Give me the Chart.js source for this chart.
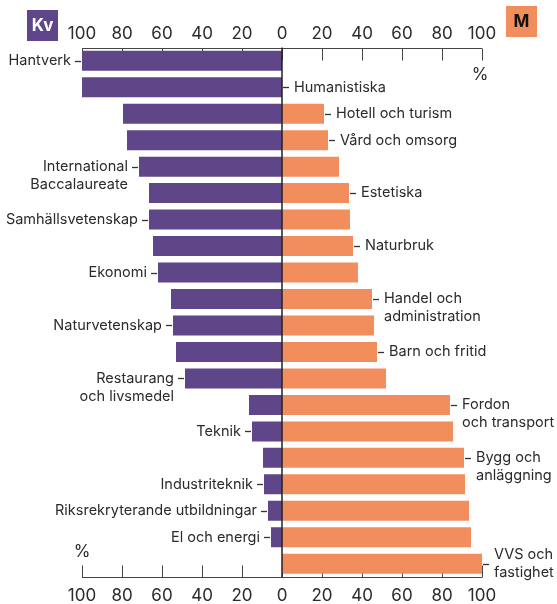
<!DOCTYPE html>
<html>
<head>
<meta charset="utf-8">
<script src="https://cdn.jsdelivr.net/npm/chart.js@4.4.1/dist/chart.umd.min.js"></script>
<style>
  html, body { margin: 0; padding: 0; background: #fff; }
  #wrap { position: relative; width: 557px; height: 604px; }
</style>
</head>
<body>
<div id="wrap"><canvas id="chart" width="557" height="604"></canvas></div>
<script>
// programmes, top to bottom ("\n" = line break in the label)
const programs = [
    'Hantverk', 'Humanistiska', 'Hotell och turism', 'Vård och omsorg',
    'International\nBaccalaureate', 'Estetiska', 'Samhällsvetenskap', 'Naturbruk',
    'Ekonomi', 'Handel och\nadministration', 'Naturvetenskap', 'Barn och fritid',
    'Restaurang\noch livsmedel', 'Fordon\noch transport', 'Teknik', 'Bygg och\nanläggning',
    'Industriteknik', 'Riksrekryterande utbildningar', 'El och energi', 'VVS och\nfastighet'
];

// share of women (Kv) and men (M), percent
const women = [100, 100, 79.5, 77.5, 71.5, 66.5, 66.5, 64.5, 62, 55.5, 54.5, 53, 48.5, 16.5, 15, 9.5, 9, 7, 5.5, 0];
const men = [0, 0, 21, 23, 28.5, 33.5, 34, 35.5, 38, 45, 46, 47.5, 52, 84, 85.5, 91, 91.5, 93.5, 94.5, 100];

// axis ticks (both sides read as positive percent)
const tickValues = [-100, -80, -60, -40, -20, 0, 20, 40, 60, 80, 100];

// which labels sit on the men's side
const rightLabels = [
    'Humanistiska', 'Hotell och turism', 'Vård och omsorg', 'Estetiska', 'Naturbruk',
    'Handel och\nadministration', 'Barn och fritid', 'Fordon\noch transport',
    'Bygg och\nanläggning', 'VVS och\nfastighet'
];

const purple = '#5f4689';
const orange = '#f28d5e';
const textColor = '#2b2b2b';
const fontFamily = 'Inter, "Noto Sans", sans-serif';

// Axis lines with ticks pointing into the plot, drawn behind the bars
function drawAxes(chart) {
    const ctx = chart.ctx;
    const area = chart.chartArea;
    const x = chart.scales.x;
    ctx.save();
    ctx.lineWidth = 1;
    ctx.strokeStyle = '#444';
    [area.top, area.bottom].forEach((y, i) => {
        const dir = i === 0 ? 1 : -1;
        const py = Math.round(y) + 0.5;
        ctx.beginPath();
        ctx.moveTo(area.left, py);
        ctx.lineTo(area.right, py);
        tickValues.forEach(v => {
            const px = Math.round(x.getPixelForValue(v)) + 0.5;
            ctx.moveTo(px, py);
            ctx.lineTo(px, py + dir * 12);
        });
        ctx.stroke();
    });
    ctx.restore();
}

// Zero line, programme labels with leader dashes, Kv / M boxes
function drawDecor(chart) {
    const ctx = chart.ctx;
    const area = chart.chartArea;
    const x = chart.scales.x;
    const y = chart.scales.y;
    const zero = x.getPixelForValue(0);

    ctx.save();
    ctx.strokeStyle = '#222';
    ctx.lineWidth = 1.5;
    ctx.beginPath();
    ctx.moveTo(zero, area.top);
    ctx.lineTo(zero, area.bottom);
    ctx.stroke();

    ctx.font = '14.5px ' + fontFamily;
    ctx.textBaseline = 'middle';
    ctx.fillStyle = textColor;
    ctx.strokeStyle = '#333';
    ctx.lineWidth = 1.3;
    const lineHeight = 18;

    programs.forEach((name, i) => {
        const cy = y.getPixelForValue(i);
        const lines = name.split('\n');
        const right = rightLabels.includes(name);
        const centered = i === programs.length - 1;
        const startY = centered ? cy - (lines.length - 1) * lineHeight / 2 : cy;
        let end, dashA, dashB, tx;
        if (right) {
            end = x.getPixelForValue(men[i]);
            dashA = end + 1; dashB = end + 7; tx = end + 12;
            ctx.textAlign = 'left';
        } else {
            end = x.getPixelForValue(-women[i]);
            dashA = end - 7; dashB = end - 1; tx = end - 11;
            ctx.textAlign = 'right';
        }
        ctx.beginPath();
        ctx.moveTo(dashA, Math.round(cy) + 0.5);
        ctx.lineTo(dashB, Math.round(cy) + 0.5);
        ctx.stroke();
        lines.forEach((ln, k) => {
            ctx.fillText(ln, tx, startY + k * lineHeight);
        });
    });

    // percent signs
    ctx.font = '17px ' + fontFamily;
    ctx.textAlign = 'center';
    ctx.fillText('%', x.getPixelForValue(100) - 2, area.top + 27);
    ctx.fillText('%', x.getPixelForValue(-100), area.bottom - 25);

    // legend boxes
    ctx.fillStyle = purple;
    ctx.fillRect(27, 10, 31, 31);
    ctx.fillStyle = orange;
    ctx.fillRect(506, 6, 31, 31);
    ctx.font = 'bold 17px ' + fontFamily;
    ctx.fillStyle = '#fff';
    ctx.fillText('Kv', 42.5, 26);
    ctx.fillStyle = '#111';
    ctx.fillText('M', 521.5, 22);
    ctx.restore();
}

const decorPlugin = {
    id: 'decor',
    beforeDatasetsDraw: drawAxes,
    afterDatasetsDraw: drawDecor
};

const tickOptions = (padding) => ({
    stepSize: 20,
    autoSkip: false,
    maxRotation: 0,
    padding: padding,
    color: textColor,
    font: { family: fontFamily, size: 17, lineHeight: 1 },
    callback: value => Math.abs(value)
});

new Chart(document.getElementById('chart'), {
    type: 'bar',
    data: {
        labels: programs,
        datasets: [
            {
                label: 'Kv',
                data: women.map(v => -v),
                backgroundColor: purple,
                barPercentage: 0.755,
                categoryPercentage: 1
            },
            {
                label: 'M',
                data: men,
                backgroundColor: orange,
                barPercentage: 0.755,
                categoryPercentage: 1
            }
        ]
    },
    options: {
        indexAxis: 'y',
        responsive: false,
        animation: false,
        devicePixelRatio: 1,
        layout: { padding: { left: 82, right: 75, top: 0, bottom: 0 } },
        plugins: {
            legend: { display: false },
            tooltip: { enabled: false }
        },
        scales: {
            x: {
                type: 'linear',
                position: 'top',
                min: -100,
                max: 100,
                stacked: true,
                grid: { display: false, drawTicks: false },
                border: { display: false },
                ticks: tickOptions(5),
                afterFit: scale => { scale.height = 47.5; }
            },
            x2: {
                type: 'linear',
                axis: 'x',
                position: 'bottom',
                min: -100,
                max: 100,
                grid: { display: false, drawTicks: false },
                border: { display: false },
                ticks: tickOptions(10),
                afterFit: scale => { scale.height = 27; }
            },
            y: {
                stacked: true,
                display: false
            }
        }
    },
    plugins: [decorPlugin]
});
</script>
</body>
</html>
